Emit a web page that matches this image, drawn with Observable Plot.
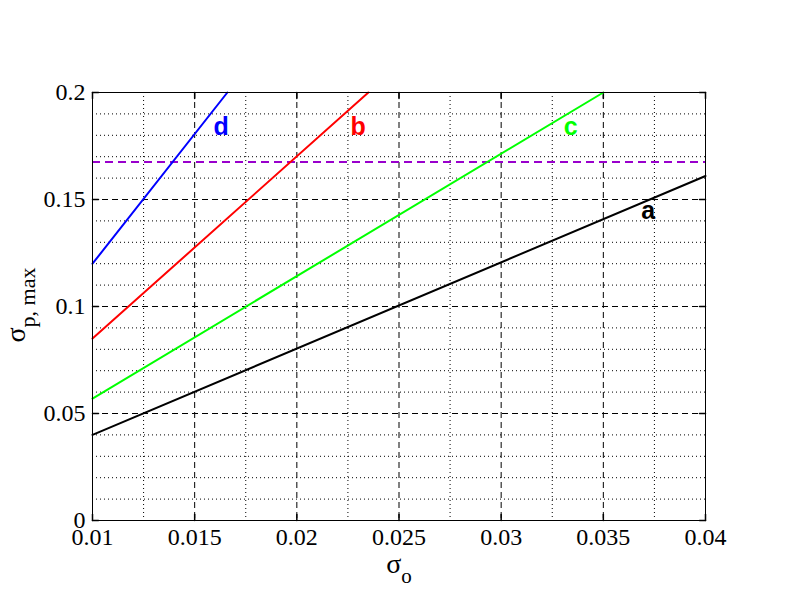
<!DOCTYPE html>
<html><head><meta charset="utf-8">
<script src="https://cdn.jsdelivr.net/npm/d3@7"></script>
<script src="https://cdn.jsdelivr.net/npm/@observablehq/plot@0.6"></script>
<style>body{margin:0;background:#fff}</style>
</head><body><div id="chart"></div>
<script>
const xDomain = [0.01, 0.04];
const yDomain = [0, 0.2];
const xTicks = [0.01, 0.015, 0.02, 0.025, 0.03, 0.035, 0.04];
const yTicks = [0, 0.05, 0.1, 0.15, 0.2];
const xMajorGrid = [0.015, 0.02, 0.025, 0.03, 0.035];
const xMinorGrid = [0.0125, 0.0175, 0.0225, 0.0275, 0.0325, 0.0375];
const yMajorGrid = [0.05, 0.1, 0.15];
const yMinorGrid = [0.01, 0.02, 0.03, 0.04, 0.06, 0.07, 0.08, 0.09, 0.11, 0.12, 0.13, 0.14, 0.16, 0.17, 0.18, 0.19];
const seriesNames = ["a", "b", "c", "d"];
const seriesColors = ["#000000", "#ff0000", "#00ff00", "#0000ff"];
const seriesX = [[0.01, 0.04], [0.01, 0.0235], [0.01, 0.035], [0.01, 0.0166]];
const seriesY = [[0.040, 0.161], [0.085, 0.200], [0.057, 0.200], [0.120, 0.200]];
const labelX = [0.0372, 0.0230, 0.0334, 0.0163];
const labelY = [0.141, 0.180, 0.180, 0.180];
const thresholdY = [0.1675];

const rows = [];
seriesNames.forEach((n, i) => seriesX[i].forEach((x, j) => rows.push({name: n, x, y: seriesY[i][j], color: seriesColors[i]})));
const labels = seriesNames.map((n, i) => ({name: n, x: labelX[i], y: labelY[i], color: seriesColors[i]}));

const tickShape = {draw(ctx, l) { ctx.moveTo(0, 0); ctx.lineTo(0, -l); }};
const serif = "'Liberation Serif', 'Times New Roman', serif";

const chart = Plot.plot({
  width: 792, height: 612,
  marginLeft: 92, marginRight: 87, marginTop: 92, marginBottom: 92,
  style: {background: "#fff", fontFamily: serif},
  x: {domain: xDomain},
  y: {domain: yDomain},
  color: {type: "identity"},
  marks: [
    Plot.ruleX(xMinorGrid, {stroke: "#000", strokeWidth: 1, strokeDasharray: "1,3"}),
    Plot.ruleY(yMinorGrid, {stroke: "#000", strokeWidth: 1, strokeDasharray: "1,3"}),
    Plot.ruleX(xMajorGrid, {stroke: "#000", strokeWidth: 1, strokeDasharray: "6,4"}),
    Plot.ruleY(yMajorGrid, {stroke: "#000", strokeWidth: 1, strokeDasharray: "6,4"}),
    Plot.vector(yTicks, {x: () => xDomain[0], y: d => d, rotate: 90, length: 6, anchor: "start", shape: tickShape, stroke: "#000"}),
    Plot.vector(yTicks, {x: () => xDomain[1], y: d => d, rotate: -90, length: 6, anchor: "start", shape: tickShape, stroke: "#000"}),
    Plot.vector(xTicks, {x: d => d, y: () => yDomain[0], rotate: 0, length: 6, anchor: "start", shape: tickShape, stroke: "#000"}),
    Plot.vector(xTicks, {x: d => d, y: () => yDomain[1], rotate: 180, length: 6, anchor: "start", shape: tickShape, stroke: "#000"}),
    Plot.ruleY(thresholdY, {stroke: "#9900cc", strokeWidth: 2, strokeDasharray: "8,5"}),
    Plot.line(rows, {x: "x", y: "y", z: "name", stroke: "color", strokeWidth: 2}),
    Plot.text(labels, {x: "x", y: "y", text: "name", fill: "color", fontWeight: "bold", fontSize: 25, fontFamily: "'Liberation Sans', Arial, sans-serif", lineAnchor: "bottom", textAnchor: "middle"}),
    Plot.frame({stroke: "#000", strokeWidth: 1}),
    Plot.axisX(xTicks, {tickSize: 0, tickPadding: 7, fontSize: 24, fontFamily: serif, tickFormat: d => String(d), label: null, fill: "#000"}),
    Plot.axisY(yTicks, {tickSize: 0, tickPadding: 7, fontSize: 24, fontFamily: serif, tickFormat: d => String(d), label: null, fill: "#000"})
  ]
});
document.getElementById("chart").appendChild(chart);

const svg = d3.select(chart);
const xl = svg.append("text").attr("x", 399).attr("y", 573).attr("text-anchor", "middle")
  .attr("font-family", serif).attr("fill", "#000");
xl.append("tspan").attr("font-size", 28).text("σ");
xl.append("tspan").attr("font-size", 21).attr("dy", 10).text("o");

const yl = svg.append("g").attr("transform", "translate(25,305) rotate(-90)")
  .append("text").attr("text-anchor", "middle").attr("font-family", serif).attr("fill", "#000");
yl.append("tspan").attr("font-size", 28).text("σ");
yl.append("tspan").attr("font-size", 22).attr("dy", 10).text("p, max");
</script>
</body></html>
